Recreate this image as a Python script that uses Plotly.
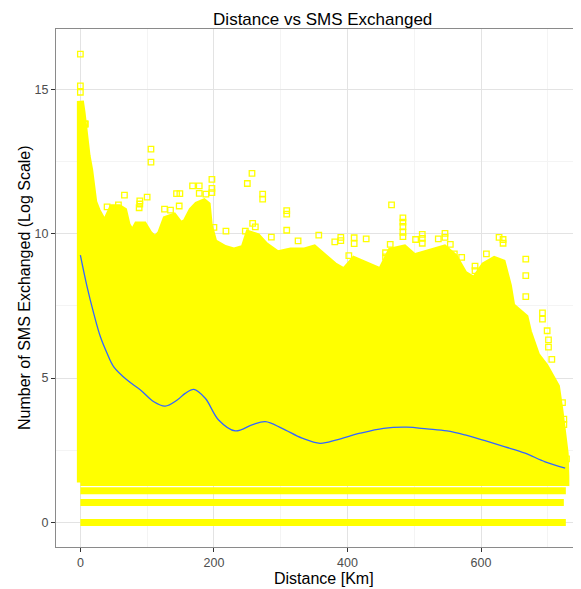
import math
import plotly.graph_objects as go

# ---- data ----
# upper envelope of the dense point cloud (distance km, log SMS)
env_x = [0, 2.5, 5, 7.5, 10, 14, 17.5, 20, 25, 30, 37, 42, 48, 58, 65, 70, 78, 85, 95, 103,
         112, 120, 128, 140, 150, 158, 167, 175, 185, 190, 193, 200, 215, 230, 245, 252, 265,
         277, 295, 315, 335, 350, 365, 380, 395, 410, 430, 450, 465, 485, 500, 515, 530, 545,
         560, 575, 590, 605, 620, 632, 641, 646, 656, 666, 671, 676, 683, 696, 706, 713, 718,
         723, 726, 727]
env_y = [14.6, 14.2, 13.7, 13.1, 12.7, 12.2, 11.5, 11.1, 10.8, 10.6, 10.3, 10.6, 10.9, 10.9,
         10.8, 10.3, 10.0, 10.3, 10.3, 10.0, 9.8, 10.0, 10.5, 10.6, 10.3, 10.4, 10.8, 11.0, 11.1,
         11.0, 10.3, 9.7, 9.5, 9.4, 9.5, 10.0, 9.9, 9.6, 9.3, 9.4, 9.4, 9.5, 9.2, 8.9, 8.7, 9.1,
         8.9, 8.7, 9.4, 9.5, 9.2, 9.3, 9.4, 9.5, 9.2, 8.6, 8.4, 8.9, 9.1, 9.0, 8.2, 7.5, 7.3, 7.1,
         6.6, 6.2, 5.8, 5.4, 4.95, 4.7, 3.9, 3.0, 2.4, 1.6]
dense_floor = math.log(4)   # below this, counts 1,2,3 form separate bands
dense_max_x = 727

# discrete low-count bands: log(1), log(2), log(3)
band_y = [math.log(1), math.log(2), math.log(3)]
band_max_x = [727, 724, 727]

# isolated points above the cloud
out_x = [0, 0, 0, 6.5, 7.5, 105.7, 105.7, 66, 89, 89, 88, 100, 40, 57, 126, 135, 148, 144, 149,
         168, 178, 178, 188, 197, 197, 197, 200, 218, 257, 250, 273, 273, 309, 309, 309, 247,
         258, 262, 286, 326, 357, 381, 390, 390, 410, 410, 428, 464, 466, 483, 483, 483, 483,
         483, 402, 457, 457, 502, 512, 512, 512, 536, 546, 546, 554, 560, 571, 591, 591, 608,
         627, 633, 633, 667, 667, 667, 692, 692, 699, 701, 701, 706, 722, 724, 724, 728]
out_y = [16.22, 15.12, 14.9, 13.8, 13.8, 12.93, 12.48, 11.34, 11.14, 11.03, 10.9, 11.27, 10.93,
         11.0, 10.85, 10.82, 10.96, 11.39, 11.39, 11.66, 11.66, 11.4, 11.37, 11.88, 11.57, 11.42,
         10.22, 10.09, 12.09, 11.74, 11.37, 11.2, 10.8, 10.68, 10.12, 10.09, 10.36, 10.24, 9.88,
         9.75, 9.95, 9.72, 9.87, 9.76, 9.86, 9.66, 9.82, 9.63, 11.0, 10.55, 10.4, 10.25, 10.05,
         9.9, 9.24, 9.34, 9.2, 9.8, 9.98, 9.84, 9.67, 9.82, 10.01, 9.87, 9.63, 9.3, 9.18, 8.88,
         8.72, 9.3, 9.87, 9.8, 9.67, 9.12, 8.55, 7.82, 7.26, 7.04, 6.64, 6.32, 6.07, 5.65, 4.15,
         3.58, 3.39, 2.2]

# smoothed trend (loess)
smooth_x = [0, 10, 20, 30, 40, 50, 70, 90, 110, 127, 145, 157, 170, 187, 207, 232, 257, 277, 302,
            332, 359, 384, 419, 454, 489, 519, 549, 576, 606, 636, 666, 696, 726]
smooth_y = [9.26, 8.17, 7.24, 6.43, 5.86, 5.39, 4.93, 4.59, 4.18, 4.03, 4.24, 4.47, 4.61, 4.3,
            3.55, 3.17, 3.38, 3.49, 3.26, 2.92, 2.74, 2.86, 3.09, 3.26, 3.3, 3.24, 3.17, 3.03,
            2.83, 2.62, 2.4, 2.1, 1.88]

x_ticks = [0, 200, 400, 600]
y_ticks = [0, 5, 10, 15]

YELLOW = "#FFFF00"
FONT = "Liberation Sans, Arial, sans-serif"

# the page body has an 8px margin, so the figure is sized/offset to compensate
W, H = 573, 581

fig = go.Figure()

# dense cloud as a filled region (stroke width = marker size)
fig.add_trace(go.Scatter(
    x=[0] + env_x + [dense_max_x, 0],
    y=[dense_floor] + env_y + [dense_floor, dense_floor],
    mode="lines", fill="toself", fillcolor=YELLOW,
    line=dict(color=YELLOW, width=7), hoverinfo="skip", showlegend=False))

for by, bx in zip(band_y, band_max_x):
    fig.add_trace(go.Scatter(
        x=[0, bx], y=[by, by], mode="lines",
        line=dict(color=YELLOW, width=7), hoverinfo="skip", showlegend=False))

fig.add_trace(go.Scatter(
    x=out_x, y=out_y, mode="markers",
    marker=dict(symbol="square-open", size=5.5, color=YELLOW, line=dict(color=YELLOW, width=1.3)),
    showlegend=False))

fig.add_trace(go.Scatter(
    x=smooth_x, y=smooth_y, mode="lines", line_shape="spline",
    line=dict(color="#3366FF", width=1.3), showlegend=False))

axis_common = dict(
    showline=True, linecolor="#8A8A8A", linewidth=1,
    ticks="outside", ticklen=4, tickcolor="#333333", tickwidth=1,
    tickfont=dict(family=FONT, size=12.5, color="#4D4D4D"),
    gridcolor="#E3E3E3", gridwidth=1, zeroline=False, automargin=False,
)

fig.update_layout(
    width=W, height=H,
    margin=dict(l=48, r=0, t=21, b=42, autoexpand=False),
    plot_bgcolor="white", paper_bgcolor="white",
    font=dict(family=FONT, color="black"),
    title=dict(text="Distance vs SMS Exchanged", font=dict(size=17, color="black", family=FONT),
               x=0.508, xanchor="center", xref="paper",
               y=1 - 11.5 / H, yanchor="middle", yref="container"),
    xaxis=dict(range=[-36.5, 749.7], tickvals=x_ticks, mirror=True,
               minor=dict(dtick=100, tick0=0, showgrid=True, gridcolor="#F4F4F4", ticks=""),
               **axis_common),
    yaxis=dict(range=[-0.85, 17.09], tickvals=y_ticks, mirror=False,
               minor=dict(dtick=2.5, tick0=0, showgrid=True, gridcolor="#F4F4F4", ticks=""),
               **axis_common),
    annotations=[
        dict(text="Distance [Km]", xref="paper", yref="paper", x=0.5105, y=0,
             xanchor="center", yanchor="middle", yshift=-31, showarrow=False,
             font=dict(size=16, color="black", family=FONT)),
        dict(text="Number of SMS Exchanged (Log Scale)", xref="paper", yref="paper", x=0, y=0.5,
             xanchor="center", yanchor="middle", xshift=-32, textangle=-90, showarrow=False,
             font=dict(size=16, color="black", family=FONT)),
    ],
)

fig.write_html("out.html")
